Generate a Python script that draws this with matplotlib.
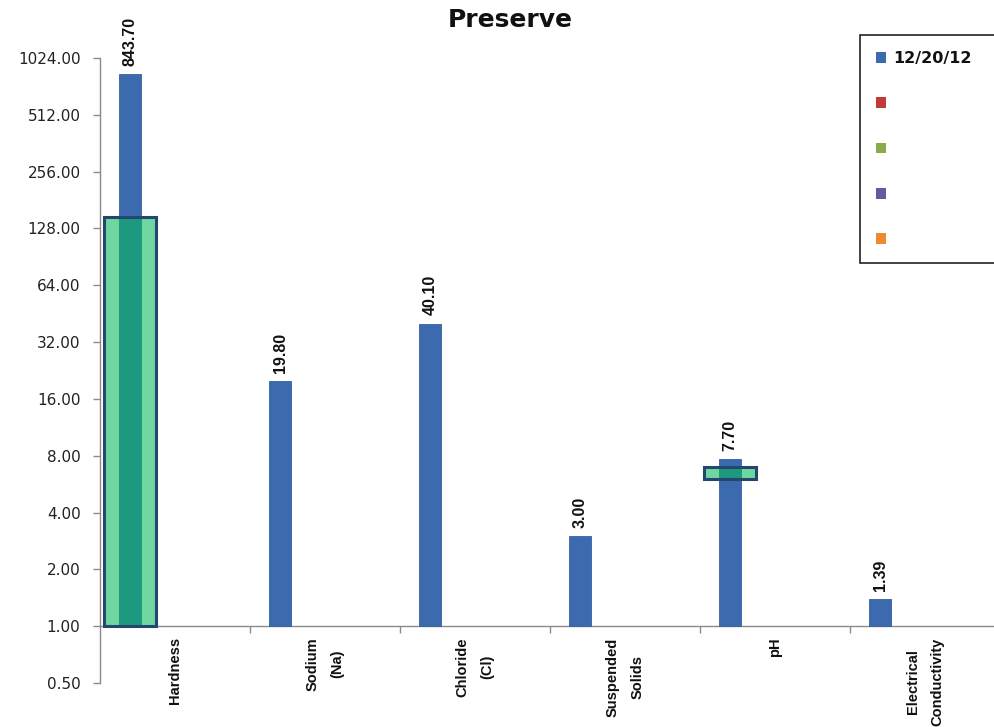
import matplotlib
matplotlib.use('Agg')
import matplotlib.pyplot as plt
import numpy as np
from matplotlib.patches import Patch
from matplotlib.ticker import FixedLocator, NullFormatter, FixedFormatter, NullLocator

# ---------------- data ----------------
title = 'Preserve'
categories = ['Hardness', 'Sodium\n(Na)', 'Chloride\n(Cl)', 'Suspended\nSolids', 'pH',
              'Electrical\nConductivity']
values_122012 = [843.70, 19.80, 40.10, 3.00, 7.70, 1.39]
range_low = [1.0, None, None, None, 6.0, None]
range_high = [147.0, None, None, None, 7.0, None]
series_labels = ['12/20/12', ' ', ' ', ' ', ' ']
series_colors = ['#3b6aaf', '#be3b37', '#8aab4c', '#6b56a0', '#ef8a33']
yticks = [0.5, 1, 2, 4, 8, 16, 32, 64, 128, 256, 512, 1024]

# ---------------- figure ----------------
W, H = 994, 727
fig = plt.figure(figsize=(W / 100, H / 100), dpi=100)
fig.patch.set_facecolor('white')
ax = fig.add_axes([100 / W, 44 / H, 900 / W, 625 / H])

ax.set_yscale('log', base=2)
ax.set_ylim(0.5, 1024)
ax.set_xlim(-0.5, len(categories) - 0.5)

x = np.arange(len(categories))
nser = len(series_labels)
bw = 0.1467
offset0 = (0 - (nser - 1) / 2) * bw - 0.005
xb = x + offset0

narrow = ['Liberation Sans Narrow', 'Liberation Sans', 'DejaVu Sans']

# blue bars
ax.bar(xb, [v - 1 for v in values_122012], bottom=1, width=bw,
       color=series_colors[0], edgecolor='#34609f', linewidth=0.6, zorder=3)

# value labels
for xi, v in zip(xb, values_122012):
    ax.annotate(f'{v:.2f}', xy=(xi, v), xytext=(0, 6), textcoords='offset points',
                rotation=90, ha='center', va='bottom', fontsize=11.5,
                fontweight='bold', family=narrow, color='#111111', zorder=5)

# green range boxes
for xi, lo, hi in zip(xb, range_low, range_high):
    if lo is None:
        continue
    ax.bar(xi, hi - lo, bottom=lo, width=0.35,
           facecolor=(9 / 255, 187 / 255, 94 / 255, 0.59),
           edgecolor='#24466f', linewidth=2.2, zorder=4)

# spines
for s in ['top', 'right']:
    ax.spines[s].set_visible(False)
ax.spines['left'].set_color('#8a8a8a')
ax.spines['bottom'].set_color('#8a8a8a')
ax.spines['bottom'].set_position(('data', 1))
ax.spines['left'].set_linewidth(1.0)
ax.spines['bottom'].set_linewidth(1.0)

# y ticks
ax.yaxis.set_major_locator(FixedLocator(yticks))
ax.yaxis.set_major_formatter(FixedFormatter([f'{t:.2f}' for t in yticks]))
ax.yaxis.set_minor_locator(NullLocator())
ax.tick_params(axis='y', which='major', direction='out', length=5, width=1,
               color='#8a8a8a', pad=9, labelsize=11, labelcolor='#222222')

# x ticks: boundaries major, centers minor with labels
ax.xaxis.set_major_locator(FixedLocator(x[:-1] + 0.5))
ax.xaxis.set_major_formatter(NullFormatter())
ax.xaxis.set_minor_locator(FixedLocator(x))
ax.xaxis.set_minor_formatter(FixedFormatter(categories))
ax.tick_params(axis='x', which='major', direction='out', length=5, width=1,
               color='#8a8a8a')
ax.tick_params(axis='x', which='minor', length=0, pad=8)
for lab in ax.xaxis.get_minorticklabels():
    lab.set_rotation(90)
    lab.set_fontweight('bold')
    lab.set_fontsize(10.5)
    lab.set_family(narrow)
    lab.set_ha('center')
    lab.set_va('top')
    lab.set_multialignment('center')
    lab.set_linespacing(2.0)
    lab.set_color('#111111')

# title
fig.text(510 / W, 1 - 20 / H, title, ha='center', va='center', fontsize=18,
         fontweight='bold', color='#111111')

# legend
handles = [Patch(facecolor=c, edgecolor='none') for c in series_colors]
leg = fig.legend(handles, series_labels, loc='upper left',
                 bbox_to_anchor=(860 / W, 1 - 263 / H, 200 / W, 228 / H),
                 bbox_transform=fig.transFigure, mode='expand',
                 frameon=True, fancybox=False, framealpha=1, edgecolor='#222222',
                 prop={'weight': 'bold', 'size': 11.5}, handlelength=0.65,
                 handleheight=0.65, handletextpad=0.45, labelspacing=1.9,
                 borderpad=1.0, borderaxespad=0)
leg.get_frame().set_linewidth(1.2)
for t in leg.get_texts():
    t.set_color('#111111')

fig.savefig('out.png', dpi=100, facecolor='white')
